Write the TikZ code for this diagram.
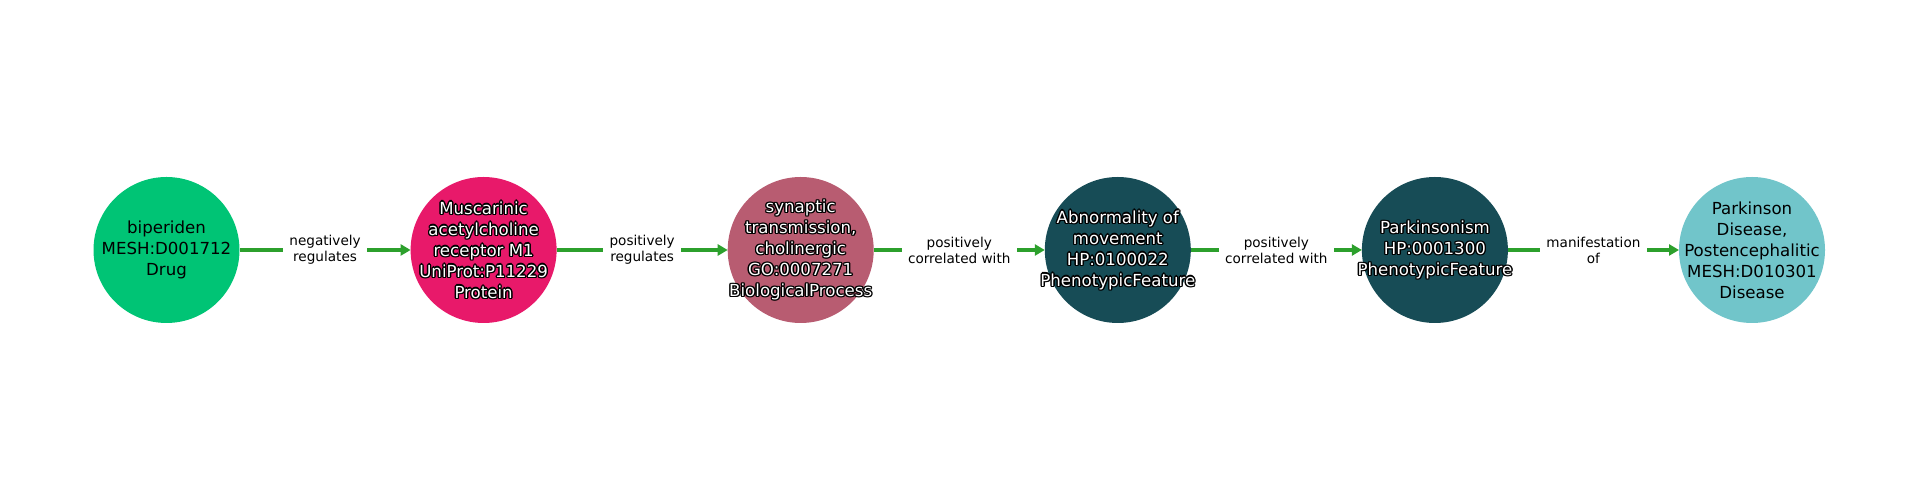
\documentclass[tikz,border=0pt]{standalone}
\usepackage{fontspec}
\setmainfont{DejaVu Sans}
\usepackage{tikz}
\usetikzlibrary{positioning,arrows.meta}
\definecolor{drugc}{HTML}{00C475}
\definecolor{protc}{HTML}{E8196A}
\definecolor{procc}{HTML}{B85C71}
\definecolor{phenc}{HTML}{174C56}
\definecolor{disc}{HTML}{71C5CA}
\definecolor{edgec}{HTML}{2CA02C}
\newsavebox\outlbox
\newcommand\outlcopy[2]{\rlap{\kern#1\raise#2\hbox{\usebox\outlbox}}}
\newcommand\outl[1]{{\setbox\outlbox\hbox{#1}\leavevmode\color{black}%
  \outlcopy{1.4pt}{0pt}\outlcopy{-1.4pt}{0pt}\outlcopy{0pt}{1.4pt}\outlcopy{0pt}{-1.4pt}%
  \outlcopy{1pt}{1pt}\outlcopy{-1pt}{1pt}\outlcopy{1pt}{-1pt}\outlcopy{-1pt}{-1pt}%
  \color{white}\usebox\outlbox}}
\tikzset{
  >={Triangle[length=10pt,width=11pt]},
  my node/.style={
    circle,
    minimum size=146pt,
    inner sep=0pt,
    outer sep=0pt
  },
  my text/.style={
    inner sep=0pt,
    align=center,
    font=\fontsize{16.6pt}{21pt}\selectfont
  },
  my edge/.style={->,line width=4pt,draw=edgec},
  my label/.style={
    fill=white,
    inner xsep=6.5pt,
    inner ysep=2pt,
    align=center,
    font=\fontsize{13.6pt}{16pt}\selectfont
  }
}

\begin{document}
\begin{tikzpicture}[node distance=171.1pt]
\useasboundingbox (0pt,0pt) rectangle (1920pt,500pt);
\node (drug) [my node,fill=drugc,label={[my text]center:{biperiden\\MESH:D001712\\Drug}}] at (166.5pt,250pt) {};
\node (rec)  [my node,fill=protc,right=of drug,label={[my text]center:{\outl{Muscarinic}\\\outl{acetylcholine}\\\outl{receptor M1}\\\outl{UniProt:P11229}\\\outl{Protein}}}] {};
\node (proc) [my node,fill=procc,right=of rec,label={[my text]center:{\outl{synaptic}\\\outl{transmission,}\\\outl{cholinergic}\\\outl{GO:0007271}\\\outl{BiologicalProcess}}}] {};
\node (abn)  [my node,fill=phenc,right=of proc,label={[my text]center:{\outl{Abnormality of}\\\outl{movement}\\\outl{HP:0100022}\\\outl{PhenotypicFeature}}}] {};
\node (park) [my node,fill=phenc,right=of abn,label={[my text]center:{\outl{Parkinsonism}\\\outl{HP:0001300}\\\outl{PhenotypicFeature}}}] {};
\node (dis)  [my node,fill=disc,right=of park,label={[my text]center:{Parkinson\\Disease,\\Postencephalitic\\MESH:D010301\\Disease}}] {};
\draw[my edge] (drug) -- node[my label] {negatively\\regulates} (rec);
\draw[my edge] (rec)  -- node[my label] {positively\\regulates} (proc);
\draw[my edge] (proc) -- node[my label] {positively\\correlated with} (abn);
\draw[my edge] (abn)  -- node[my label] {positively\\correlated with} (park);
\draw[my edge] (park) -- node[my label] {manifestation\\of} (dis);
\end{tikzpicture}
\end{document}
